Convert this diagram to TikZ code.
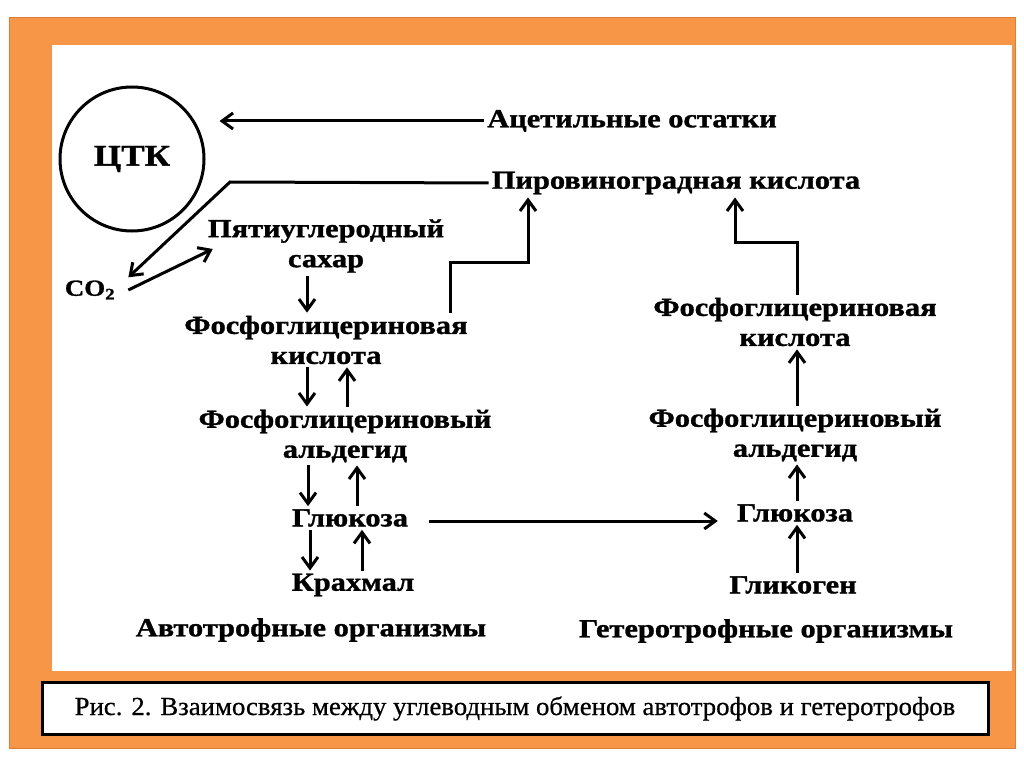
\documentclass[tikz,border=0pt]{standalone}
\usepackage{fontspec}
\setmainfont{Liberation Serif}
\newfontfamily\diafont{Liberation Serif}[FakeStretch=1.17, BoldFeatures={FakeBold=1.2}]
\newfontfamily\capfont{Liberation Serif}[FakeStretch=1.03, FakeBold=0.6]
\usepackage{tikz}
\usetikzlibrary{arrows.meta,positioning}
\definecolor{frameorange}{HTML}{F79646}
\definecolor{frameedge}{HTML}{DC7E36}

\begin{document}
\begin{tikzpicture}[x=1pt,y=-1pt,
    lbl/.style={font=\diafont\bfseries\fontsize{26}{30}\selectfont, align=center, inner sep=3pt},
    arr/.style={-{Straight Barb[length=11pt,width=16pt,line width=3pt]}, line width=3pt}]
  \useasboundingbox (0,0) rectangle (1024,767);
  \fill[white] (0,0) rectangle (1024,767);
  \filldraw[fill=frameorange, draw=frameedge, line width=1pt] (9,18) rectangle (1015,748);
  \fill[white] (52,45) rectangle (1012,671);

  \node (ctk) [draw, circle, line width=3pt, minimum size=144pt,
    font=\diafont\bfseries\fontsize{30}{36}\selectfont] at (132,159) {ЦТК};
  \node (acet) [lbl] at (632,121) {Ацетильные остатки};
  \node (pvk) [lbl] at (676,183) {Пировиноградная кислота};
  \node (co2) [lbl, font=\diafont\bfseries\fontsize{23}{26}\selectfont] at (90,290) {CO\textsubscript{2}};
  \node (sugar) [lbl] at (326,246) {Пятиуглеродный\\сахар};
  \node (pgk1) [lbl] at (326,340) {Фосфоглицериновая\\кислота};
  \node (pga1) [lbl] at (345,436) {Фосфоглицериновый\\альдегид};
  \node (glu1) [lbl] at (350,518) {Глюкоза};
  \node (starch) [lbl] at (353,585) {Крахмал};
  \node (auto) [lbl] at (311,630) {Автотрофные организмы};
  \node (pgk2) [lbl] at (795,322) {Фосфоглицериновая\\кислота};
  \node (pga2) [lbl] at (795,435) {Фосфоглицериновый\\альдегид};
  \node (glu2) [lbl] at (795,513) {Глюкоза};
  \node (glyc) [lbl] at (793,585) {Гликоген};
  \node (hetero) [lbl] at (766,631) {Гетеротрофные организмы};

  \node (cap) [draw, line width=3pt, fill=white, minimum width=946pt, minimum height=52pt,
    font=\capfont\fontsize{26}{30}\selectfont] at (515,708.5)
    {Рис. 2. Взаимосвязь между углеводным обменом автотрофов и гетеротрофов};

  \coordinate (pvkbend) at (230,182);
  \draw[arr, shorten >=14pt] (acet.west) -- (acet.west -| ctk.east);
  \draw[arr] (pvk.west) -- (pvkbend) -- ([xshift=10pt]co2.north east);
  \draw[arr] ([xshift=10pt]co2.east) -- ([xshift=8pt,yshift=-3pt]sugar.west);
  \draw[arr] ([xshift=124pt]pgk1.north) -- ++(0,-50) -| ([xshift=-148pt]pvk.south);
  \draw[arr] ([xshift=2pt]pgk2.north) -- ++(0,-52) -| ([xshift=59pt]pvk.south);

  \draw[arr] ([xshift=-19pt]sugar.south) -- ([xshift=-19pt]pgk1.north);
  \draw[arr] ([xshift=-19pt]pgk1.south) -- ([xshift=-38pt]pga1.north);
  \draw[arr] ([xshift=2pt]pga1.north) -- ([xshift=21pt]pgk1.south);
  \draw[arr] ([xshift=-37pt]pga1.south) -- ([xshift=-42pt]glu1.north);
  \draw[arr] ([xshift=7pt]glu1.north) -- ([xshift=12pt]pga1.south);
  \draw[arr] ([xshift=-40pt]glu1.south) -- ([xshift=-43pt]starch.north);
  \draw[arr] ([xshift=9pt]starch.north) -- ([xshift=12pt]glu1.south);
  \draw[arr, shorten <=18pt, shorten >=16pt] ([yshift=-3pt]glu1.east) -- ([yshift=-3pt]glu1.east -| glu2.west);

  \draw[arr] ([xshift=4pt]glyc.north) -- ([xshift=2pt]glu2.south);
  \draw[arr] ([xshift=2pt]glu2.north) -- ([xshift=2pt]pga2.south);
  \draw[arr] ([xshift=2pt]pga2.north) -- ([xshift=2pt]pgk2.south);
\end{tikzpicture}
\end{document}
